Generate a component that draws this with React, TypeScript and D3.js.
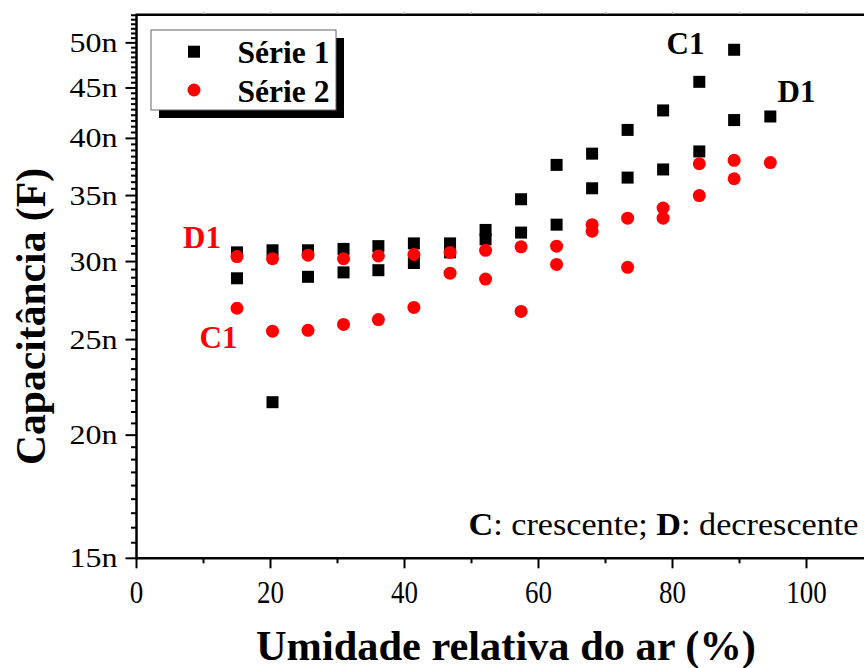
import React, { useEffect, useRef } from 'react';
import * as d3 from 'd3';

// umidade relativa (%) de cada medida
const umidade = [15, 20.3, 25.6, 30.9, 36.1, 41.4, 46.8, 52.1, 57.4, 62.7, 68, 73.3, 78.6, 84, 89.2, 94.6];

// capacitância em nF (C = crescente, D = decrescente)
const serie1C = [28.85, 21.6, 28.95, 29.25, 29.4, 29.9, 30.65, 31.6, 34.7, 37.6, 38.6, 40.8, 42.7, 45.65, 49.2, 42.1];
const serie1D = [30.65, 30.8, 30.8, 30.9, 31.1, 31.3, 31.3, 32.3, 32.1, 32.7, 35.6, 36.5, 37.2, 38.8, 41.75, null];
const serie2C = [26.9, 25.5, 25.55, 25.9, 26.2, 26.95, 29.2, 28.8, 26.7, 29.8, 32.2, 29.6, 33.2, 35.0, 36.4, 37.8];
const serie2D = [30.35, 30.2, 30.45, 30.2, 30.4, 30.5, 30.65, 30.8, 31.05, 31.1, 32.7, 33.2, 34.0, 37.7, 38.0, null];

const yTicks = [15, 20, 25, 30, 35, 40, 45, 50];
const xTicks = [0, 20, 40, 60, 80, 100];
const xMinorTicks = [10, 30, 50, 70, 90];

const FONT = '"Liberation Serif", "Times New Roman", Times, serif';

const App = () => {
  const svgRef = useRef(null);

  useEffect(() => {
    const svg = d3.select(svgRef.current);
    svg.selectAll('*').remove();

    const width = 864;
    const height = 668;

    const x = d3.scaleLinear().domain([0, 110]).range([136.5, 136.5 + 110 * 6.7]);
    const y = d3.scaleLog().domain([15, 53.4]).range([558.3, 14.7]);

    svg.attr('width', width).attr('height', height).style('font-family', FONT);

    const pts = (vals) =>
      umidade.map((u, i) => ({ u, v: vals[i] })).filter((d) => d.v != null);

    // frame
    const frame = svg.append('g').attr('stroke', '#000').attr('fill', 'none');
    frame.append('line').attr('x1', x(0)).attr('x2', width).attr('y1', y(15)).attr('y2', y(15)).attr('stroke-width', 2.5);
    frame.append('line').attr('x1', x(0)).attr('x2', width).attr('y1', y.range()[1]).attr('y2', y.range()[1]).attr('stroke-width', 2.5);
    frame.append('line').attr('x1', x(0)).attr('x2', x(0)).attr('y1', y.range()[1] - 1).attr('y2', y(15) + 1).attr('stroke-width', 2.5);

    // top axis little ticks
    svg.append('g')
      .selectAll('line')
      .data(d3.range(10, 111, 10))
      .join('line')
      .attr('x1', (d) => x(d)).attr('x2', (d) => x(d))
      .attr('y1', y.range()[1] - 1).attr('y2', y.range()[1] - 3)
      .attr('stroke', '#bbb').attr('stroke-width', 1.5);

    // y minor ticks: 8 between each major, evenly spaced in value
    const yMinor = [];
    for (let m = 15; m < 55; m += 5) {
      for (let k = 1; k <= 8; k++) {
        const v = m + (5 * k) / 9;
        if (v <= 53.4) yMinor.push(v);
      }
    }
    svg.append('g')
      .selectAll('line')
      .data(yMinor)
      .join('line')
      .attr('x1', x(0)).attr('x2', x(0) - 5.5)
      .attr('y1', (d) => y(d)).attr('y2', (d) => y(d))
      .attr('stroke', '#000').attr('stroke-width', 2);

    svg.append('g')
      .selectAll('line')
      .data(yTicks)
      .join('line')
      .attr('x1', x(0)).attr('x2', x(0) - 11)
      .attr('y1', (d) => y(d)).attr('y2', (d) => y(d))
      .attr('stroke', '#000').attr('stroke-width', 2);

    svg.append('g')
      .selectAll('text')
      .data(yTicks)
      .join('text')
      .attr('x', 117.5)
      .attr('y', (d) => y(d) + 9)
      .attr('text-anchor', 'end')
      .attr('font-size', 27)
      .attr('textLength', 48)
      .attr('lengthAdjust', 'spacingAndGlyphs')
      .text((d) => `${d}n`);

    // x ticks
    svg.append('g')
      .selectAll('line')
      .data(xTicks)
      .join('line')
      .attr('x1', (d) => x(d)).attr('x2', (d) => x(d))
      .attr('y1', y(15)).attr('y2', y(15) + 10)
      .attr('stroke', '#000').attr('stroke-width', 2);
    svg.append('g')
      .selectAll('line')
      .data(xMinorTicks)
      .join('line')
      .attr('x1', (d) => x(d)).attr('x2', (d) => x(d))
      .attr('y1', y(15)).attr('y2', y(15) + 5)
      .attr('stroke', '#000').attr('stroke-width', 2);
    svg.append('g')
      .selectAll('text')
      .data(xTicks)
      .join('text')
      .attr('x', (d) => x(d))
      .attr('y', 603)
      .attr('text-anchor', 'middle')
      .attr('font-size', 31)
      .attr('textLength', (d) => String(d).length * 13.5)
      .attr('lengthAdjust', 'spacingAndGlyphs')
      .text((d) => d);

    // axis titles
    svg.append('text')
      .attr('x', 506).attr('y', 660)
      .attr('text-anchor', 'middle')
      .attr('font-size', 42).attr('font-weight', 'bold')
      .attr('textLength', 500).attr('lengthAdjust', 'spacingAndGlyphs')
      .text('Umidade relativa do ar (%)');
    svg.append('text')
      .attr('transform', 'translate(45,316.5) rotate(-90)')
      .attr('text-anchor', 'middle')
      .attr('font-size', 42).attr('font-weight', 'bold')
      .attr('textLength', 297).attr('lengthAdjust', 'spacingAndGlyphs')
      .text('Capacitância (F)');

    // série 1: squares
    const sq = 12;
    svg.append('g')
      .selectAll('rect')
      .data([...pts(serie1C), ...pts(serie1D)])
      .join('rect')
      .attr('x', (d) => x(d.u) - sq / 2)
      .attr('y', (d) => y(d.v) - sq / 2)
      .attr('width', sq).attr('height', sq)
      .attr('fill', '#000');

    // série 2: circles
    svg.append('g')
      .selectAll('circle')
      .data([...pts(serie2C), ...pts(serie2D)])
      .join('circle')
      .attr('cx', (d) => x(d.u))
      .attr('cy', (d) => y(d.v))
      .attr('r', 6.5)
      .attr('fill', '#ff0000');

    // branch labels
    const labels = [
      { t: 'C1', x: 666.5, y: 54, c: '#000' },
      { t: 'D1', x: 777.5, y: 101.5, c: '#000' },
      { t: 'D1', x: 183, y: 247.5, c: '#ff0000' },
      { t: 'C1', x: 199.5, y: 348, c: '#ff0000' },
    ];
    svg.append('g')
      .selectAll('text')
      .data(labels)
      .join('text')
      .attr('x', (d) => d.x).attr('y', (d) => d.y)
      .attr('fill', (d) => d.c)
      .attr('font-size', 31).attr('font-weight', 'bold')
      .text((d) => d.t);

    // note
    const note = svg.append('text')
      .attr('x', 468.5).attr('y', 535)
      .attr('font-size', 32)
      .attr('textLength', 390).attr('lengthAdjust', 'spacingAndGlyphs');
    note.append('tspan').attr('font-weight', 'bold').text('C');
    note.append('tspan').text(': crescente; ');
    note.append('tspan').attr('font-weight', 'bold').text('D');
    note.append('tspan').text(': decrescente');

    // legend
    const lg = svg.append('g');
    lg.append('rect').attr('x', 159).attr('y', 38).attr('width', 185).attr('height', 80).attr('fill', '#000');
    lg.append('rect').attr('x', 151).attr('y', 30).attr('width', 185).attr('height', 80)
      .attr('fill', '#fff').attr('stroke', '#666').attr('stroke-width', 1);
    lg.append('rect').attr('x', 194 - sq / 2).attr('y', 51.7 - sq / 2).attr('width', sq).attr('height', sq).attr('fill', '#000');
    lg.append('circle').attr('cx', 194).attr('cy', 90).attr('r', 6.5).attr('fill', '#ff0000');
    lg.append('text').attr('x', 237.5).attr('y', 62.5).attr('font-size', 31).attr('font-weight', 'bold')
      .attr('textLength', 92).attr('lengthAdjust', 'spacingAndGlyphs').text('Série 1');
    lg.append('text').attr('x', 237.5).attr('y', 101.5).attr('font-size', 31).attr('font-weight', 'bold')
      .attr('textLength', 92).attr('lengthAdjust', 'spacingAndGlyphs').text('Série 2');
  }, []);

  return <svg ref={svgRef} style={{ position: 'absolute', left: 0, top: 0 }} />;
};

export default App;
